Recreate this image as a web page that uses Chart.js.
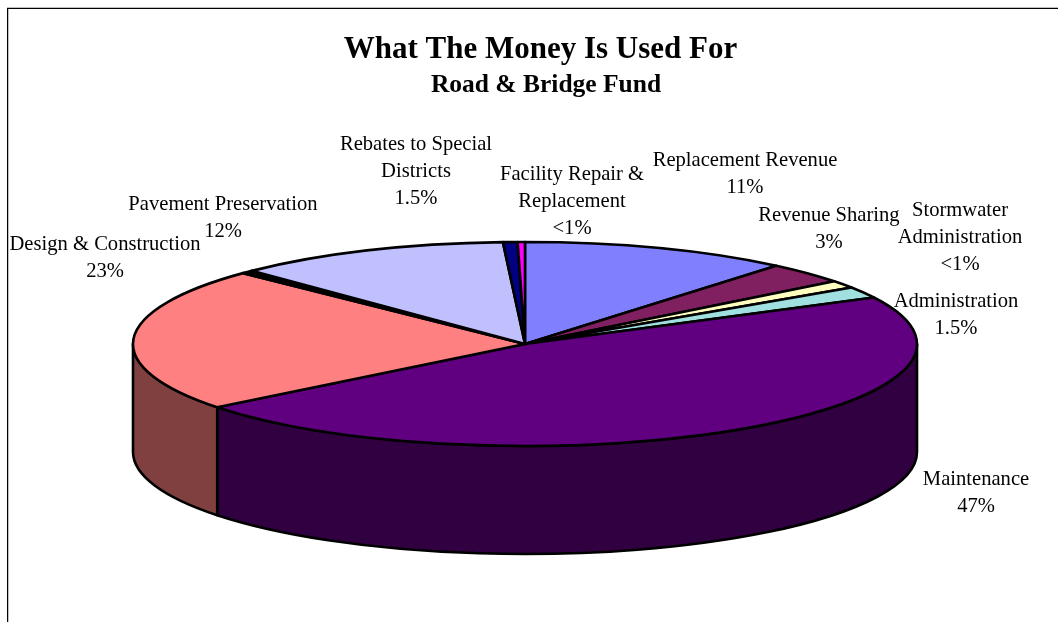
<!DOCTYPE html>
<html>
<head>
<meta charset="utf-8">
<title>What The Money Is Used For</title>
<script src="https://cdn.jsdelivr.net/npm/chart.js@4"></script>
<style>
    html, body { margin: 0; padding: 0; background: #fff; }
    #wrap { width: 1058px; height: 622px; overflow: hidden; }
</style>
</head>
<body>
<div id="wrap"><canvas id="pieChart" width="1058" height="622"></canvas></div>
<script>
// DADOS
const categories = ['Replacement Revenue', 'Revenue Sharing', 'Stormwater Administration', 'Administration', 'Maintenance', 'Design & Construction', 'Other', 'Pavement Preservation', 'Rebates to Special Districts', 'Facility Repair & Replacement'];
const values = [11.1, 3.4, 1.2, 1.8, 47.0, 22.9, 0.5, 11.4, 0.6, 0.3];
const colors = ['#8080ff', '#802060', '#ffffc0', '#a0e0e0', '#600080', '#ff8080', '#000000', '#c0c0ff', '#000080', '#ff00ff'];
const wallColors = ['#404080', '#401030', '#808060', '#507070', '#300040', '#804040', '#000000', '#606080', '#000040', '#800080'];
const titleText = 'What The Money Is Used For';
const subtitleText = 'Road & Bridge Fund';

// ROTULOS: [linhas, centro x, y da primeira linha]
const pieLabels = [
    [['Rebates to Special', 'Districts', '1.5%'], 416, 145],
    [['Facility Repair &', 'Replacement', '<1%'], 572, 175],
    [['Replacement Revenue', '11%'], 745, 161],
    [['Revenue Sharing', '3%'], 829, 216],
    [['Stormwater', 'Administration', '<1%'], 960, 211],
    [['Administration', '1.5%'], 956, 302],
    [['Maintenance', '47%'], 976, 480],
    [['Design & Construction', '23%'], 105, 245],
    [['Pavement Preservation', '12%'], 223, 205]
];

// GEOMETRIA DO DISCO
const cx = 525, cy = 344, rx = 392, ry = 102, depth = 108;

function facePath(c, start, end) {
    c.beginPath();
    c.moveTo(cx, cy);
    c.ellipse(cx, cy, rx, ry, 0, start, end);
    c.closePath();
}

function wallPath(c, start, end) {
    c.beginPath();
    c.ellipse(cx, cy, rx, ry, 0, start, end);
    c.ellipse(cx, cy + depth, rx, ry, 0, end, start, true);
    c.closePath();
}

// DESENHA O DISCO 3D COM OS ANGULOS CALCULADOS PELO CHART.JS
const pie3d = {
    id: 'pie3d',
    beforeDatasetDraw(chart) {
        const c = chart.ctx;
        const arcs = chart.getDatasetMeta(0).data;
        c.save();
        c.lineWidth = 2.6;
        c.strokeStyle = '#000';
        c.lineJoin = 'round';
        // parede frontal: so o trecho entre 0 e PI fica visivel
        arcs.forEach((arc, i) => {
            const a = arc.getProps(['startAngle', 'endAngle'], true);
            const start = Math.max(a.startAngle, 0);
            const end = Math.min(a.endAngle, Math.PI);
            if (end <= start) return;
            wallPath(c, start, end);
            c.fillStyle = wallColors[i];
            c.fill();
            c.stroke();
        });
        // tampo
        arcs.forEach((arc, i) => {
            const a = arc.getProps(['startAngle', 'endAngle'], true);
            facePath(c, a.startAngle, a.endAngle);
            c.fillStyle = colors[i];
            c.fill();
            c.stroke();
        });
        c.restore();
        return false;
    },
    afterDraw(chart) {
        const c = chart.ctx;
        c.save();
        // moldura
        c.fillStyle = '#c0c0c0';
        c.fillRect(7, 7, 1051, 1);
        c.fillRect(8, 8, 1, 614);
        c.fillStyle = '#000';
        c.fillRect(7, 8, 1051, 1);
        c.fillRect(7, 8, 1, 614);
        // titulos
        c.textAlign = 'center';
        c.textBaseline = 'middle';
        c.font = 'bold 31px "Liberation Serif"';
        c.fillText(titleText, 540.5, 50);
        c.font = 'bold 25.5px "Liberation Serif"';
        c.fillText(subtitleText, 546, 85);
        // rotulos
        c.font = '20.6px "Liberation Serif"';
        pieLabels.forEach(([lines, x, y]) => {
            lines.forEach((line, n) => c.fillText(line, x, y + n * 27));
        });
        c.restore();
    }
};

Chart.defaults.animation = false;

new Chart(document.getElementById('pieChart'), {
    type: 'pie',
    data: {
        labels: categories,
        datasets: [{ data: values, backgroundColor: colors }]
    },
    options: {
        responsive: false,
        plugins: {
            legend: { display: false },
            tooltip: { enabled: false }
        }
    },
    plugins: [pie3d]
});
</script>
</body>
</html>
